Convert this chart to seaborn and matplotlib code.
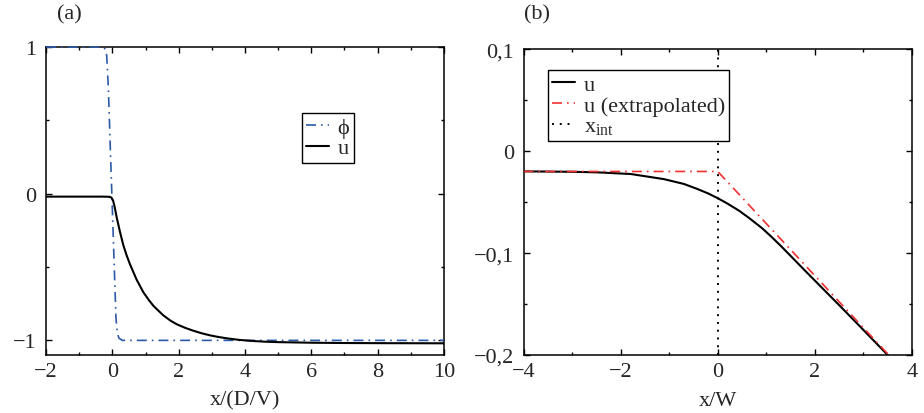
import matplotlib
matplotlib.use('Agg')
import matplotlib.pyplot as plt
import seaborn as sns
from matplotlib.ticker import FixedLocator, FuncFormatter

# panel (a): phase field and u across the interface
xa_phi = [-2, -0.3, -0.2, -0.17, -0.12, -0.07, -0.02, 0.03, 0.08, 0.11, 0.15, 0.2, 0.3, 0.5, 10]
phi = [1, 1, 0.985, 0.94, 0.72, 0.37, 0.03, -0.31, -0.65, -0.85, -0.95, -0.985, -1, -1, -1]

xa_u = [-2, -0.3, -0.1, -0.03, 0.02, 0.07, 0.13, 0.23, 0.33, 0.43, 0.53, 0.73, 0.93, 1.1, 1.24, 1.4,
        1.54, 1.75, 1.94, 2.2, 2.44, 2.7, 2.95, 3.2, 3.45, 3.8, 4.15, 4.6, 5, 6, 7, 8, 10]
ua = [-0.02, -0.02, -0.021, -0.026, -0.045, -0.09, -0.16, -0.26, -0.35, -0.42, -0.48, -0.585, -0.67,
      -0.725, -0.765, -0.80, -0.83, -0.865, -0.89, -0.915, -0.934, -0.952, -0.966, -0.977,
      -0.986, -0.996, -1.003, -1.009, -1.012, -1.016, -1.018, -1.019, -1.02]

# panel (b): zoom on u near the interface
xb_u = [-4, -3, -2.46, -1.79, -1.11, -0.7, -0.44, -0.2, 0, 0.2, 0.44, 0.65, 0.91, 1.1, 1.31,
        1.72, 2.12, 2.53, 2.93, 3.5, 4]
ub = [-0.0199, -0.0203, -0.0209, -0.0225, -0.0275, -0.0322, -0.0368, -0.0415, -0.0462, -0.0515,
      -0.0585, -0.0658, -0.0755, -0.0838, -0.0935, -0.1135, -0.1328, -0.1525, -0.172, -0.2, -0.2245]
xb_ext = [-4, 0, 4]
ub_ext = [-0.02, -0.02, -0.2244]
x_int = 0.0

sns.set_style('ticks')
plt.rcParams['font.family'] = ['Liberation Serif', 'DejaVu Serif']
plt.rcParams['mathtext.fontset'] = 'custom'
plt.rcParams['mathtext.rm'] = 'Liberation Serif'
plt.rcParams['font.size'] = 16
plt.rcParams['axes.linewidth'] = 1.1
plt.rcParams['axes.edgecolor'] = 'black'

blue = '#2c5aa8'
red = '#f03030'
dashdot = (0, (6, 3, 1, 3))

fig = plt.figure(figsize=(9.24, 4.14), dpi=100)
ax1 = fig.add_axes([0.0498, 0.140, 0.4307, 0.744])
ax2 = fig.add_axes([0.5666, 0.140, 0.4204, 0.739])

sns.lineplot(x=xa_phi, y=phi, ax=ax1, color=blue, linestyle=dashdot, linewidth=1.2,
             label='ϕ', zorder=3, clip_on=False)
sns.lineplot(x=xa_u, y=ua, ax=ax1, color='black', linewidth=1.5, label='u', zorder=3)

sns.lineplot(x=xb_u, y=ub, ax=ax2, color='black', linewidth=1.5, label='u', zorder=3)
sns.lineplot(x=xb_ext, y=ub_ext, ax=ax2, color=red, linestyle=dashdot, linewidth=1.2,
             label='u (extrapolated)', zorder=3)
ax2.axvline(x_int, color='black', linestyle=(0, (1, 3)), linewidth=1.4, label=r'x$_{\rm int}$')

def minus(v, pos):
    s = ('%g' % v).replace('.', ',')
    return s.replace('-', '\u2212')

ax1.set_xlim(-2, 10)
ax1.set_ylim(-1.1, 1)
ax1.xaxis.set_major_locator(FixedLocator([-2, 0, 2, 4, 6, 8, 10]))
ax1.xaxis.set_minor_locator(FixedLocator([-1, 1, 3, 5, 7, 9]))
ax1.yaxis.set_major_locator(FixedLocator([-1, 0, 1]))
ax1.yaxis.set_minor_locator(FixedLocator([-0.5, 0.5]))
ax1.set_xlabel('x/(D/V)', labelpad=7)

ax2.set_xlim(-4, 4)
ax2.set_ylim(-0.2, 0.1)
ax2.xaxis.set_major_locator(FixedLocator([-4, -2, 0, 2, 4]))
ax2.xaxis.set_minor_locator(FixedLocator([-3, -1, 1, 3]))
ax2.yaxis.set_major_locator(FixedLocator([-0.2, -0.1, 0, 0.1]))
ax2.yaxis.set_minor_locator(FixedLocator([-0.15, -0.05, 0.05]))
ax2.set_xlabel('x/W', labelpad=7)

for ax in (ax1, ax2):
    ax.xaxis.set_major_formatter(FuncFormatter(minus))
    ax.yaxis.set_major_formatter(FuncFormatter(minus))
    ax.tick_params(which='both', direction='in', top=True, right=True, width=1.0,
                   labelsize=16, color='black')
    ax.tick_params(which='major', length=4.5)
    ax.tick_params(axis='x', which='major', pad=5)
    ax.tick_params(axis='y', which='major', pad=7)
    ax.tick_params(which='minor', length=2.5)
    for s in ax.spines.values():
        s.set_visible(True)
        s.set_color('black')

leg1 = ax1.legend(loc='upper left', bbox_to_anchor=(0.643, 0.786), fancybox=False,
                  edgecolor='black', framealpha=1, borderpad=0.2, handlelength=1.0,
                  handletextpad=0.4, labelspacing=0.0, borderaxespad=0, fontsize=16)
leg1.get_frame().set_linewidth(1.0)
leg2 = ax2.legend(loc='upper left', bbox_to_anchor=(0.063, 0.931), fancybox=False,
                  edgecolor='black', framealpha=1, borderpad=0.2, handlelength=1.0,
                  handletextpad=0.4, labelspacing=0.0, borderaxespad=0, fontsize=16)
leg2.get_frame().set_linewidth(1.0)

fig.text(0.0617, 0.964, '(a)', fontsize=16, va='center', ha='left')
fig.text(0.5666, 0.964, '(b)', fontsize=16, va='center', ha='left')

plt.savefig('out.png', dpi=100)
